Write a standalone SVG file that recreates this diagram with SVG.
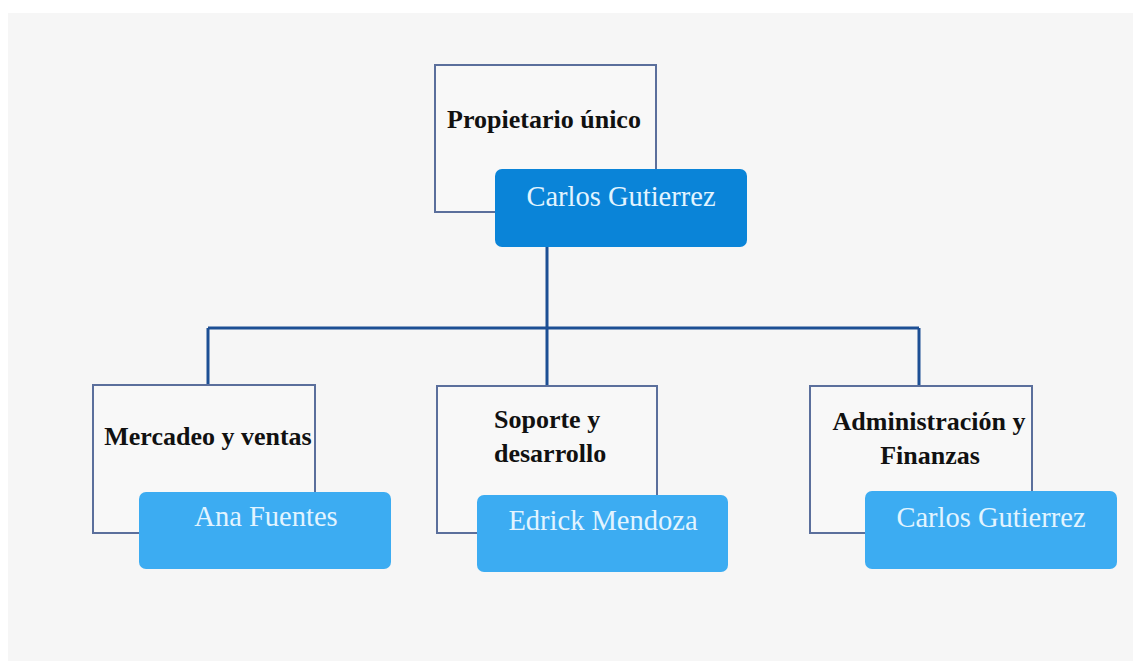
<svg xmlns="http://www.w3.org/2000/svg" width="1133" height="661" viewBox="0 0 1133 661">
<style>
.frame{fill:#f8f8f8;stroke:#5b6f9c;stroke-width:2}
.top{fill:#0a84d8}
.sub{fill:#3cacf2}
.title{font-family:"Liberation Serif",serif;font-weight:bold;font-size:26px;fill:#111}
.name{font-family:"Liberation Serif",serif;font-size:28.5px;fill:#e2f4ff}
.conn{fill:none;stroke:#1d4f94;stroke-width:3}
</style>
<rect x="0" y="0" width="1133" height="661" fill="#ffffff"/>
<rect x="8" y="13" width="1125" height="648" fill="#f6f6f6"/>
<g id="connectors">
<path class="conn" d="M547 247 V386"/>
<path class="conn" d="M208 328 H919"/>
<path class="conn" d="M208 328 V385"/>
<path class="conn" d="M919 328 V386"/>
</g>
<g id="node-propietario">
<rect class="frame" x="435" y="65" width="221" height="147"/>
<text class="title" x="544" y="128" text-anchor="middle">Propietario único</text>
<rect class="top" x="495" y="169" width="252" height="78" rx="7"/>
<text class="name" x="621" y="206" text-anchor="middle">Carlos Gutierrez</text>
</g>
<g id="node-mercadeo">
<rect class="frame" x="93" y="385" width="222" height="148"/>
<text class="title" x="208" y="445" text-anchor="middle">Mercadeo y ventas</text>
<rect class="sub" x="139" y="492" width="252" height="77" rx="7"/>
<text class="name" x="266" y="526" text-anchor="middle">Ana Fuentes</text>
</g>
<g id="node-soporte">
<rect class="frame" x="437" y="386" width="220" height="147"/>
<text class="title" x="494" y="428">Soporte y</text>
<text class="title" x="494" y="462">desarrollo</text>
<rect class="sub" x="477" y="495" width="251" height="77" rx="7"/>
<text class="name" x="603" y="530" text-anchor="middle">Edrick Mendoza</text>
</g>
<g id="node-administracion">
<rect class="frame" x="810" y="386" width="222" height="147"/>
<text class="title" x="929" y="430" text-anchor="middle">Administración y</text>
<text class="title" x="930" y="464" text-anchor="middle">Finanzas</text>
<rect class="sub" x="865" y="491" width="252" height="78" rx="7"/>
<text class="name" x="991" y="527" text-anchor="middle">Carlos Gutierrez</text>
</g>
</svg>
